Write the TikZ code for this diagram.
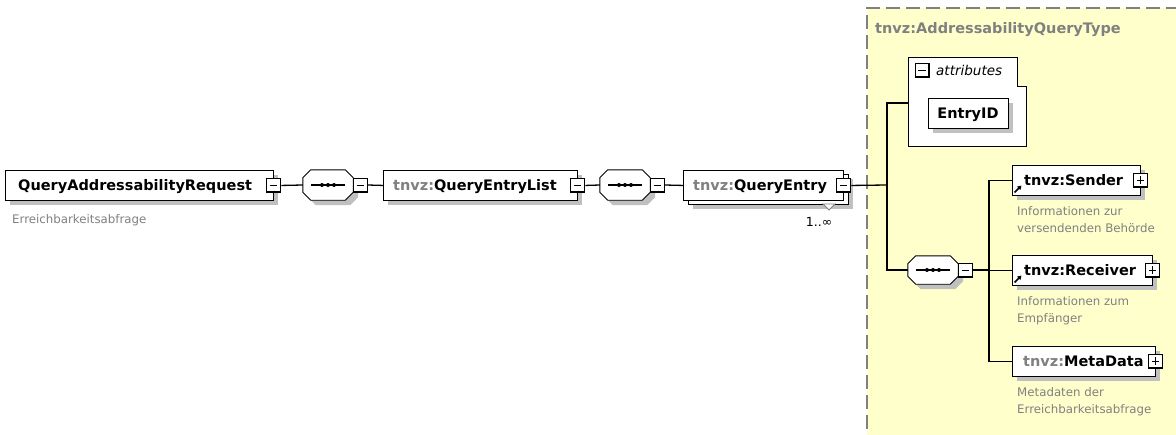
\documentclass[tikz,border=0pt]{standalone}
\usepackage{fontspec}
\setmainfont{DejaVu Sans}
\usetikzlibrary{shadows,arrows.meta}
\definecolor{shadowgray}{HTML}{C0C0C0}
\definecolor{txtgray}{HTML}{808080}
\definecolor{bgyellow}{HTML}{FFFFCC}
\newcommand\octshape[4]{%
 \path[#4] ([xshift=#2+8pt,yshift=#3]#1.north west) -- ([xshift=#2-8pt,yshift=#3]#1.north east)
  -- ([xshift=#2,yshift=#3-8pt]#1.north east) -- ([xshift=#2,yshift=#3+8pt]#1.south east)
  -- ([xshift=#2-8pt,yshift=#3]#1.south east) -- ([xshift=#2+8pt,yshift=#3]#1.south west)
  -- ([xshift=#2,yshift=#3+8pt]#1.south west) -- ([xshift=#2,yshift=#3-8pt]#1.north west) -- cycle;}
\newcommand\seqdraw[1]{%
 \octshape{#1}{5pt}{-5pt}{fill=shadowgray}%
 \octshape{#1}{0pt}{0pt}{draw=black,fill=white,line width=0.9pt}%
 \draw[line width=1.1pt] ([xshift=-17pt]#1.center) -- ([xshift=17pt]#1.center);
 \fill ([xshift=-6pt]#1.center) circle (2pt);
 \fill (#1.center) circle (2pt);
 \fill ([xshift=6pt]#1.center) circle (2pt);}
\tikzset{
 elbox/.style={draw=black, line width=0.9pt, fill=white, anchor=north west, inner sep=0pt,
   drop shadow={shadow xshift=5pt, shadow yshift=-5pt, fill=shadowgray, opacity=1}},
 plainbox/.style={draw=black, line width=0.9pt, fill=white, anchor=north west, inner sep=0pt},
 area/.style={anchor=north west, inner sep=0pt},
 boldlbl/.style={font=\fontsize{14.5}{17}\selectfont\bfseries, inner sep=0pt, anchor=base west},
 desc/.style={font=\fontsize{11.8}{15}\selectfont, text=txtgray, inner sep=0pt, anchor=base west},
 conn/.style={line width=1.3pt, draw=black},
 minusicon/.style={draw=black, line width=0.9pt, fill=white, minimum size=14pt, inner sep=0pt,
   path picture={
   \draw[line width=2pt] (path picture bounding box.north east) -- (path picture bounding box.south east) -- (path picture bounding box.south west);
   \draw[line width=1pt] ([xshift=3pt]path picture bounding box.west) -- ([xshift=-3.5pt]path picture bounding box.east);}},
 plusicon/.style={draw=black, line width=0.9pt, fill=white, minimum size=14pt, inner sep=0pt,
   path picture={
   \draw[line width=2pt] (path picture bounding box.north east) -- (path picture bounding box.south east) -- (path picture bounding box.south west);
   \draw[line width=1pt] ([xshift=3pt]path picture bounding box.west) -- ([xshift=-3.5pt]path picture bounding box.east);
   \draw[line width=1pt] ([yshift=3.5pt]path picture bounding box.south) -- ([yshift=-3pt]path picture bounding box.north);}},
}
\begin{document}
\begin{tikzpicture}[x=1pt,y=-1pt]
\useasboundingbox (0,0) rectangle (1176,434);
\fill[white] (0,0) rectangle (1176,434);
% yellow type area
\fill[bgyellow] (867,8) rectangle (1180,440);
\draw[txtgray, line width=1.4pt, dash pattern=on 14pt off 6pt] (1180,8) -- (867,8) -- (867,440);
\node[anchor=base west, inner sep=0pt, text=txtgray, font=\fontsize{14.5}{17}\selectfont\bfseries] (title) at (875,33.8) {tnvz:AddressabilityQueryType};

% root element
\node[elbox, minimum width=268pt, minimum height=30pt] (req) at (5,170) {};
\node[boldlbl] (reqt) at (18,190.3) {QueryAddressabilityRequest};
\node[minusicon] (reqi) at (req.east) {};
\node[desc] (reqd) at (12,223) {Erreichbarkeitsabfrage};

% sequence 1
\node[minimum width=50pt, minimum height=30pt, inner sep=0pt] (o1) at (328,185) {};
\seqdraw{o1}
\node[minusicon, anchor=west] (o1i) at (o1.east) {};

% QueryEntryList
\node[elbox, minimum width=194pt, minimum height=30pt] (qel) at (383,170) {};
\node[boldlbl] (qelt) at (393,190.3) {\textcolor{txtgray}{tnvz:}QueryEntryList};
\node[minusicon] (qeli) at (qel.east) {};

% sequence 2
\node[minimum width=50pt, minimum height=30pt, inner sep=0pt] (o2) at (625,185) {};
\seqdraw{o2}
\node[minusicon, anchor=west] (o2i) at (o2.east) {};

% QueryEntry (multiple)
\node[elbox, minimum width=160pt, minimum height=30pt] (qeb) at (688,174) {};
\node[plainbox, minimum width=160pt, minimum height=30pt] (qe) at (683,170) {};
\node[boldlbl] (qet) at (693,190.3) {\textcolor{txtgray}{tnvz:}QueryEntry};
\node[minusicon] (qei) at (qe.east) {};
\draw[txtgray, fill=white, line width=0.8pt] (823,204) -- (835,204) -- (829,210) -- cycle;
\node[anchor=base, inner sep=0pt, font=\fontsize{12.5}{14}\selectfont] (mult) at (819,226) {1..∞};

% attributes
\node[area, minimum width=118pt, minimum height=89pt] (attr) at (908,57) {};
\draw[line width=0.9pt, fill=white] (908,57) -- (1017,57) -- (1017,86) -- (1026,86) -- (1026,146) -- (908,146) -- cycle;
\node[minusicon] (attri) at (922,70) {};
\node[anchor=base west, inner sep=0pt, font=\fontsize{13.5}{16}\selectfont\itshape] (attrt) at (936,75) {attributes};
\node[elbox, minimum width=80pt, minimum height=30pt] (eid) at (928,98) {};
\node[anchor=base, inner sep=0pt, font=\fontsize{14.5}{17}\selectfont\bfseries] (eidt) at (968,118.3) {EntryID};

% sequence 3
\node[minimum width=50pt, minimum height=28pt, inner sep=0pt] (o3) at (933,270) {};
\seqdraw{o3}
\node[minusicon, anchor=west] (o3i) at (o3.east) {};

% children
\node[elbox, minimum width=128pt, minimum height=30pt] (snd) at (1012,165) {};
\node[boldlbl] (sndt) at (1024,185.3) {tnvz:Sender};
\node[plusicon] (sndi) at (snd.east) {};
\draw[line width=1.5pt, -{Triangle[length=4pt,width=4.5pt]}] (1014.5,192.5) -- (1021.5,185.5);
\node[desc] (sndd1) at (1017,215) {Informationen zur};
\node[desc] (sndd2) at (1017,232) {versendenden Behörde};

\node[elbox, minimum width=140pt, minimum height=30pt] (rcv) at (1012,255) {};
\node[boldlbl] (rcvt) at (1024,275.3) {tnvz:Receiver};
\node[plusicon] (rcvi) at (rcv.east) {};
\draw[line width=1.5pt, -{Triangle[length=4pt,width=4.5pt]}] (1014.5,282.5) -- (1021.5,275.5);
\node[desc] (rcvd1) at (1017,305) {Informationen zum};
\node[desc] (rcvd2) at (1017,322) {Empfänger};

\node[elbox, minimum width=143pt, minimum height=30pt] (met) at (1012,346) {};
\node[boldlbl] (mett) at (1023,366.3) {\textcolor{txtgray}{tnvz:}MetaData};
\node[plusicon] (meti) at (met.east) {};
\node[desc] (metd1) at (1017,396) {Metadaten der};
\node[desc] (metd2) at (1017,413) {Erreichbarkeitsabfrage};

% connectors
\coordinate (j0) at (887,185);
\coordinate (j1) at (887,103);
\coordinate (j2) at (887,270);
\coordinate (k0) at (989,270);
\draw[conn] (reqi.east) -- (o1.west);
\draw[conn] (o1i.east) -- (qel.west);
\draw[conn] (qeli.east) -- (o2.west);
\draw[conn] (o2i.east) -- (qe.west);
\draw[conn] (qei.east) -- (j0);
\draw[conn] (j1 -| attr.west) -- (j1) -- (j2) -- (o3.west);
\draw[conn] (o3i.east) -- (k0);
\draw[conn] (snd.west) -- (snd.west -| k0) -- (met.west -| k0) -- (met.west);
\draw[conn] (rcv.west -| k0) -- (rcv.west);
\end{tikzpicture}
\end{document}
